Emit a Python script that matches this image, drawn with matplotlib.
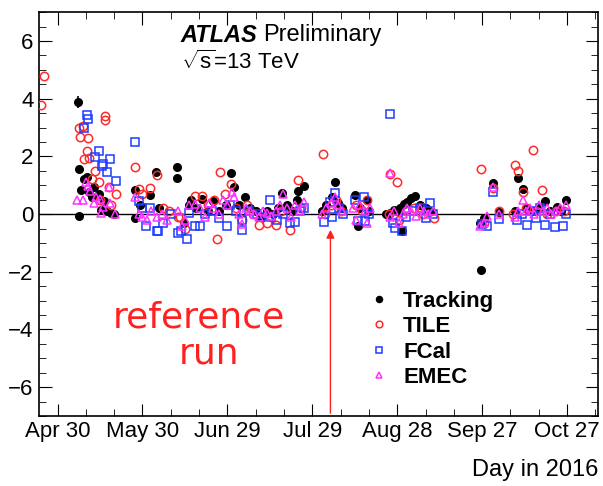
import matplotlib
matplotlib.use("Agg")
import matplotlib.pyplot as plt
import numpy as np

plt.rcParams["font.family"] = ["Liberation Sans", "DejaVu Sans"]
plt.rcParams["mathtext.fontset"] = "custom"
plt.rcParams["mathtext.rm"] = "Liberation Sans"

# day in 2016 and relative value for each detector
trk_day = [128.2, 128.4, 128.7, 129.4, 130.2, 131.3, 132.0, 133.0, 134.0, 135.7, 136.5, 137.5, 138.5, 140.0, 141.0,
           148.4, 148.4, 150.0, 153.7, 155.7, 157.0, 163.1, 163.1,
           165.5, 167.5, 168.0, 170.0, 172.0, 174.0, 176.0, 178.0, 180.5, 182.4, 183.2, 185.0, 187.4, 189.0, 191.0,
           193.0, 195.0, 197.0, 199.0, 200.3, 202.0, 204.0, 205.6, 205.8, 208.0,
           214.5, 216.0, 218.0, 219.1, 220.0, 221.5,
           226.2, 227.0, 228.0, 230.3, 231.0,
           237.0, 238.3, 240.0, 241.0, 242.1, 242.7, 243.5, 244.4, 246.0, 247.4, 249.0, 251.0, 253.0,
           270.6, 271.5, 270.3, 275.0, 276.8,
           282.5, 283.8, 285.6, 287.0, 289.0, 291.0, 293.2, 295.0, 297.4, 299.0, 300.6]
trk_val = [3.88, 1.56, -0.06, 0.82, 1.2, 1.28, 0.75, 0.6, 0.95, 0.71, 0.15, 0.45, 0.1, 0.05, 0.0,
           0.82, -0.14, 0.3, 0.65, 1.45, 0.2, 1.62, 1.25,
           -0.3, 0.3, 0.48, 0.2, 0.54, 0.1, 0.46, 0.1, 0.3, 1.42, 0.94, 0.3, 0.59, 0.2, 0.1,
           -0.1, 0.1, 0.0, 0.2, 0.73, 0.3, 0.1, 0.48, 0.8, 0.99,
           0.1, 0.3, 0.6, 1.11, 0.4, 0.2,
           0.65, -0.43, 0.2, 0.48, 0.1,
           0.0, 0.05, 0.14, 0.1, 0.2, -0.6, 0.35, 0.42, 0.55, 0.62, 0.3, 0.2, 0.1,
           -1.95, -0.15, -0.3, 1.07, 0.08,
           0.1, 1.24, 0.88, 0.2, 0.1, 0.2, 0.45, 0.1, 0.25, 0.1, 0.48]
trk_err = [0.2] + [0.05] * (len(trk_val) - 1)

tile_day = [115.2, 116.2, 128.4, 129.0, 131.6, 130.0, 131.3, 130.5, 132.0, 134.3, 135.5, 137.8, 137.8, 139.0, 141.6,
            133.0, 136.0, 140.0,
            148.4, 149.6, 151.0, 153.7, 156.0, 158.2, 163.7, 160.5,
            164.4, 166.0, 169.7, 172.0, 174.0, 176.2, 177.4, 178.3, 180.3, 182.3, 184.0, 186.0, 188.0, 190.0, 192.0,
            195.0, 198.0, 200.0, 203.2, 205.8, 207.0,
            214.8, 215.5, 217.5, 219.5, 221.0,
            226.5, 228.5, 230.5,
            238.3, 240.9, 238.0, 241.5, 244.0, 247.0, 250.0, 253.9,
            270.6, 271.5, 275.0, 276.8,
            282.7, 283.8, 289.1, 285.6, 292.1, 282.0, 286.5, 290.0, 294.0, 297.0, 300.0]
tile_val = [3.77, 4.79, 2.99, 2.67, 2.63, 3.05, 2.19, 1.9, 1.95, 1.51, 1.1, 3.39, 3.25, 0.94, 0.68,
            1.2, 0.5, 0.3,
            1.62, 0.88, 0.7, 0.91, 1.34, 0.2, -0.09, 0.1,
            -0.11, -0.5, 0.62, 0.62, 0.3, 0.48, -0.87, 1.45, 0.71, 1.03, 0.2, -0.2, 0.3, 0.0, -0.38,
            -0.32, -0.38, 0.1, -0.55, 1.19, 0.2,
            2.1, 0.0, 0.3, 0.5, 0.1,
            0.3, 0.1, 0.5,
            1.39, 1.11, 0.0, -0.2, 0.1, 0.2, 0.0, -0.15,
            1.56, -0.3, 0.9, 0.1,
            1.7, 1.51, 2.22, 0.76, 0.85, 0.0, 0.2, 0.1, 0.0, 0.1, 0.1]

fcal_day = [130.2, 131.3, 131.8, 134.1, 135.8, 136.6, 137.2, 138.4, 139.4, 141.6,
            148.4, 149.6, 151.0, 152.2, 153.5, 156.0, 156.6, 158.4, 163.7, 161.0,
            164.5, 166.8, 167.4, 169.7, 171.5, 173.0, 175.5, 177.9, 180.7, 182.0, 184.0, 186.2, 186.0, 188.5, 191.5,
            193.0, 195.9, 196.5, 198.5, 200.5, 203.2, 205.0, 206.5, 208.0,
            215.2, 217.1, 219.1, 218.0, 220.5, 222.0,
            226.2, 229.1, 227.0, 229.5, 231.0,
            238.3, 239.5, 240.3, 242.7, 244.0, 246.5, 249.0, 251.0, 252.7, 253.5,
            270.8, 272.7, 275.0, 276.8,
            283.2, 285.0, 286.7, 288.5, 290.2, 291.5, 293.2, 295.0, 296.8, 299.7, 300.5]
fcal_val = [2.99, 3.45, 3.28, 1.99, 2.19, 1.68, 1.75, 1.45, 1.9, 1.14,
            2.5, 0.46, 0.2, -0.4, 0.2, -0.6, -0.6, -0.32, -0.65, 0.0,
            -0.6, -0.87, 0.04, -0.43, -0.43, 0.0, 0.1, -0.15, -0.43, 0.3, 0.1, -0.55, -0.2, 0.1, 0.02,
            -0.1, 0.48, -0.11, -0.2, 0.0, -0.32, -0.26, 0.1, 0.2,
            -0.26, 0.42, 0.73, -0.1, 0.2, 0.0,
            0.48, 0.59, -0.25, -0.25, 0.0,
            3.47, -0.3, -0.49, -0.6, -0.1, 0.1, 0.2, -0.15, 0.37, 0.0,
            -0.35, -0.43, 0.76, -0.18,
            -0.2, 0.0, -0.38, 0.1, -0.15, 0.2, -0.38, 0.0, -0.46, -0.43, 0.0]

emec_day = [128.0, 129.9, 131.0, 131.7, 132.5, 133.7, 134.5, 136.1, 137.2, 136.5, 139.0, 139.5, 141.4,
            148.4, 149.6, 151.0, 152.5, 154.0, 156.0, 158.0, 159.5, 163.5,
            165.0, 166.0, 167.5, 169.5, 171.5, 173.0, 174.5, 176.0, 178.0, 179.5, 181.0, 182.6, 183.5, 185.0, 186.0,
            187.5, 189.0, 190.5, 192.0, 193.5, 195.0, 196.5, 198.0, 199.5, 200.5, 202.0, 203.5, 205.0, 206.5, 208.0,
            214.5, 216.0, 217.5, 219.1, 220.0, 221.5,
            225.5, 226.5, 228.0, 229.5, 230.5, 231.5,
            238.3, 238.5, 240.0, 241.5, 243.0, 244.5, 246.0, 247.5, 249.0, 250.5, 252.0, 253.5,
            270.3, 271.5, 272.7, 275.0, 276.8,
            282.5, 283.5, 285.6, 286.5, 288.0, 289.5, 291.0, 292.5, 294.0, 295.5, 297.0, 298.5, 300.6]
emec_val = [0.5, 0.5, 1.1, 0.96, 0.8, 0.37, 0.6, 0.54, 0.25, 0.05, 0.94, 0.4, 0.02,
            0.6, 0.0, -0.1, -0.2, 0.1, -0.1, 0.0, -0.2, 0.1,
            -0.43, -0.2, 0.3, 0.35, 0.2, -0.1, 0.4, 0.2, 0.0, 0.5, 0.3, 0.76, 0.6, 0.0, -0.35,
            0.2, 0.1, 0.0, -0.1, 0.1, 0.05, -0.05, 0.1, 0.3, 0.7, 0.2, -0.1, 0.3, 0.1, 0.42,
            0.0, 0.2, 0.4, 0.59, 0.3, 0.1,
            0.2, -0.2, 0.3, 0.1, -0.3, 0.2,
            1.41, -0.1, 0.1, -0.3, 0.0, 0.2, 0.1, -0.05, 0.2, 0.1, 0.0, 0.1,
            -0.43, -0.3, -0.07, 0.94, 0.0,
            -0.1, 0.1, 0.48, 0.1, 0.2, 0.0, 0.3, 0.1, 0.2, 0.0, 0.1, 0.2, 0.3]

ref_day = 217.4
tick_days = [121, 151, 181, 211, 241, 271, 301]
tick_labels = ["Apr 30", "May 30", "Jun 29", "Jul 29", "Aug 28", "Sep 27", "Oct 27"]

fig = plt.figure(figsize=(6.03, 4.86), dpi=100)
ax = fig.add_axes([0.064, 0.144, 0.928, 0.831])

ax.axhline(0, color="black", lw=1.0, zorder=1)

ax.plot(trk_day, trk_val, "o", color="black", ms=5.5, label="Tracking", zorder=2)
ax.errorbar(trk_day, trk_val, yerr=trk_err, fmt="none", ecolor="black", elinewidth=1.2,
            capsize=0, zorder=2)
ax.plot(tile_day, tile_val, "o", mfc="none", mec="#ff2a2a", mew=1.1, ms=6, label="TILE", zorder=3)
ax.plot(fcal_day, fcal_val, "s", mfc="none", mec="#1e3cff", mew=1.1, ms=6, label="FCal", zorder=4)
ax.plot(emec_day, emec_val, "^", mfc="none", mec="#ff33ff", mew=1.1, ms=5.5, label="EMEC", zorder=5)

# reference run marker
ax.annotate("", xy=(ref_day, -0.45), xytext=(ref_day, -7),
            arrowprops=dict(arrowstyle="-|>", color="#ff2020", lw=1.0, mutation_scale=12))
ax.text(170.8, -3.6, "reference", color="#ff2020", fontsize=26, ha="center", va="center",
        family="DejaVu Sans")
ax.text(174.5, -4.85, "run", color="#ff2020", fontsize=26, ha="center", va="center",
        family="DejaVu Sans")

ax.text(0.254, 0.943, "ATLAS", transform=ax.transAxes, fontsize=17, fontweight="bold",
        fontstyle="italic", va="center")
ax.text(0.402, 0.943, "Preliminary", transform=ax.transAxes, fontsize=17, va="center")
ax.text(0.254, 0.876, r"$\sqrt{\mathrm{s}}$=13 TeV", transform=ax.transAxes, fontsize=16, va="center")

ax.set_xticks(tick_days)
ax.set_xticklabels(tick_labels)
ax.set_xticks(np.arange(111, 312, 10), minor=True)
ax.set_yticks([-6, -4, -2, 0, 2, 4, 6])
ax.set_yticks(np.arange(-7, 7.01, 0.5), minor=True)
# limits after the ticks, set_xticks would widen them
ax.set_xlim(114.3, 312)
ax.set_ylim(-7, 7)
ax.tick_params(which="both", direction="in", top=True, right=True, labelsize=16)
ax.tick_params(which="major", length=9)
ax.tick_params(which="minor", length=5)
for s in ax.spines.values():
    s.set_linewidth(1.2)

fig.text(0.992, 0.033, "Day in 2016", ha="right", va="center", fontsize=17)

leg = ax.legend(loc="upper left", bbox_to_anchor=(0.548, 0.36), frameon=False,
                prop={"weight": "bold", "size": 16}, handletextpad=0.5, labelspacing=0.2,
                handlelength=1.2, markerscale=0.8)

fig.savefig("out.png", dpi=100)
